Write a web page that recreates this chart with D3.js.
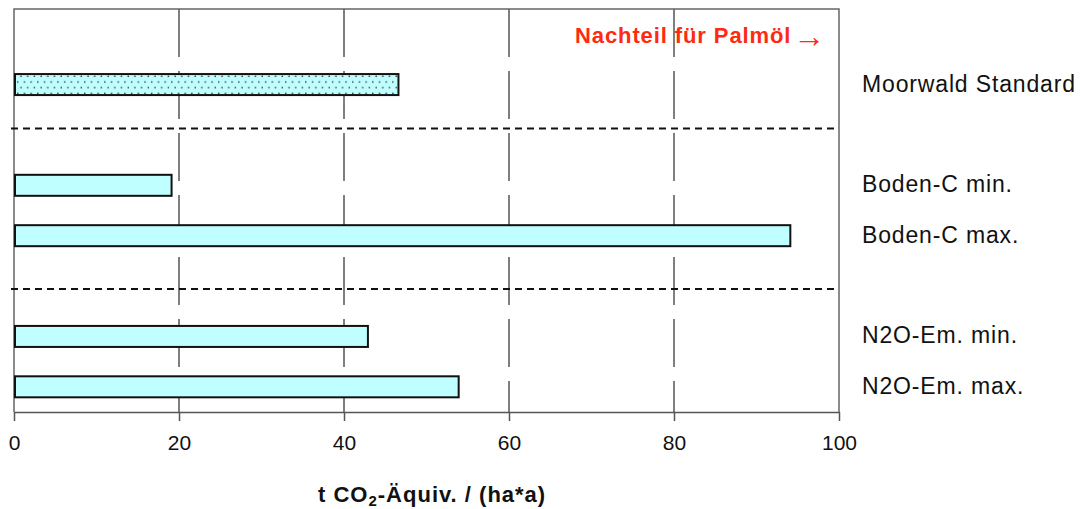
<!DOCTYPE html>
<html><head><meta charset="utf-8">
<script src="https://cdnjs.cloudflare.com/ajax/libs/d3/7.8.5/d3.min.js"></script>
<style>body{margin:0;background:#fff}svg{display:block}text{font-family:"Liberation Sans",Arial,sans-serif}</style>
</head><body><svg id="c" width="1080" height="509"></svg>
<script>
// Slots (rows) from top to bottom; empty names are spacer rows
const slots = ["top", "Moorwald Standard", "gap1", "Boden-C min.", "Boden-C max.", "gap2", "N2O-Em. min.", "N2O-Em. max."];
const categories = ["Moorwald Standard", "Boden-C min.", "Boden-C max.", "N2O-Em. min.", "N2O-Em. max."];
const values = [46.6, 19.1, 94.1, 42.9, 53.9];
const patterned = ["Moorwald Standard"];
const separators = [2.37, 5.56]; // positions in row units
const xTicks = [0, 20, 40, 60, 80, 100];
const xDomain = [0, 100];
const axisTitle = ["t CO", "2", "-Äquiv. / (ha*a)"];
const noteText = "Nachteil für Palmöl";

const svg = d3.select("#c");
const L = 14, R = 839, T = 9, B = 412;
const x = d3.scaleLinear().domain(xDomain).range([L, R]);
const y = d3.scaleBand().domain(slots).range([T, B]).paddingInner(0.583).paddingOuter(0.2915);
const yRow = d3.scaleLinear().domain([0, slots.length]).range([T, B]);

const defs = svg.append("defs");
const pat = defs.append("pattern").attr("id", "dots").attr("patternUnits", "userSpaceOnUse")
  .attr("width", 6.7).attr("height", 11.4).attr("x", L + 2).attr("y", 0);
pat.append("rect").attr("width", 6.7).attr("height", 11.4).attr("fill", "#c0ffff");
pat.append("rect").attr("x", 1).attr("y", 1.5).attr("width", 1.4).attr("height", 1.4).attr("fill", "#333");
pat.append("rect").attr("x", 4.35).attr("y", 7.2).attr("width", 1.4).attr("height", 1.4).attr("fill", "#333");

// gridlines
svg.append("g").selectAll("line").data(xTicks.filter(d => d > 0 && d < 100)).join("line")
  .attr("x1", d => x(d)).attr("x2", d => x(d)).attr("y1", T).attr("y2", B)
  .attr("stroke", "#555").attr("stroke-width", 1.5).attr("stroke-dasharray", "48,14");

// frame: top, right, left
svg.append("path").attr("d", `M${L},${B}V${T}H${R}V${B}`).attr("fill", "none")
  .attr("stroke", "#666").attr("stroke-width", 1.5);

// separators
svg.append("g").selectAll("line").data(separators).join("line")
  .attr("x1", L - 3).attr("x2", R).attr("y1", d => yRow(d)).attr("y2", d => yRow(d))
  .attr("stroke", "#111").attr("stroke-width", 2).attr("stroke-dasharray", "7,5");

// bars
svg.append("g").selectAll("rect").data(categories).join("rect")
  .attr("x", x(0) + 1).attr("y", d => y(d))
  .attr("width", (d, i) => x(values[i]) - x(0) - 1).attr("height", y.bandwidth())
  .attr("fill", d => patterned.includes(d) ? "url(#dots)" : "#c0ffff")
  .attr("stroke", "#111").attr("stroke-width", 2);

// category labels
svg.append("g").selectAll("text").data(categories).join("text")
  .attr("x", 862).attr("y", d => y(d) + y.bandwidth() / 2 + 7)
  .attr("font-size", 23).attr("letter-spacing", 0.85).attr("fill", "#111").text(d => d);

// x axis
const ax = svg.append("g").attr("transform", `translate(0,${B})`)
  .call(d3.axisBottom(x).tickValues(xTicks).tickSize(9).tickPadding(14).tickSizeOuter(0));
ax.select(".domain").attr("stroke", "#555").attr("stroke-width", 1.5);
ax.selectAll(".tick line").attr("stroke", "#555").attr("stroke-width", 1.5);
ax.selectAll(".tick text").attr("font-size", 21).attr("fill", "#111")
  .attr("font-family", "Liberation Sans, Arial, sans-serif");

// axis title
const t = svg.append("text").attr("x", 318).attr("y", 502)
  .attr("font-size", 22).attr("font-weight", "bold").attr("letter-spacing", 1).attr("fill", "#111");
t.append("tspan").text(axisTitle[0]);
t.append("tspan").attr("font-size", 15).attr("dy", 4).text(axisTitle[1]);
t.append("tspan").attr("dy", -4).text(axisTitle[2]);

// note
svg.append("text").attr("x", 575).attr("y", 43).attr("font-size", 22).attr("font-weight", "bold")
  .attr("letter-spacing", 0.9).attr("fill", "#ff2a12").text(noteText);
svg.append("text").attr("x", 793).attr("y", 47).attr("font-size", 32).attr("fill", "#ff2a12")
  .attr("font-family", "DejaVu Sans").text("→");
</script></body></html>
